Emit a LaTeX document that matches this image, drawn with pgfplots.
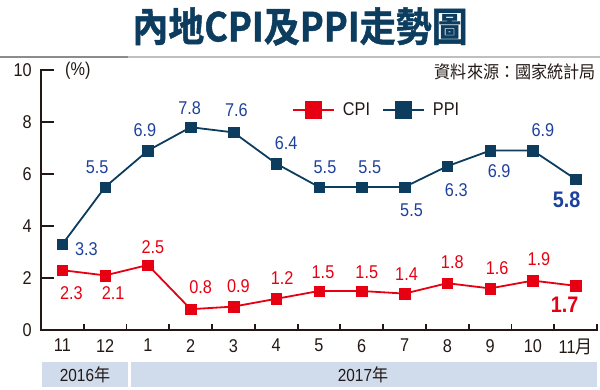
\documentclass[border=0pt]{standalone}
\usepackage{fontspec}
\setmainfont{Liberation Sans}[FakeStretch=0.88]
\newfontfamily\cjk{Noto Sans CJK TC}[FakeStretch=0.92]
\newfontfamily\cjkbold{Noto Sans CJK TC Bold}[FakeStretch=0.9, FakeBold=1.2]
\usepackage{pgfplots}
\usepackage{pgfplotstable}
\pgfplotsset{compat=1.18}

\definecolor{cpired}{RGB}{230,0,18}
\definecolor{ppinavy}{RGB}{12,60,94}
\definecolor{ppilab}{RGB}{30,65,155}
\definecolor{titleblue}{RGB}{12,60,94}
\definecolor{axiscol}{RGB}{35,24,21}
\definecolor{band}{RGB}{208,220,236}

\pgfplotstableread{
x y
0 2.3
1 2.1
2 2.5
3 0.8
4 0.9
5 1.2
6 1.5
7 1.5
8 1.4
9 1.8
10 1.6
11 1.9
12 1.7
}\cpidata

\pgfplotstableread{
x y
0 3.3
1 5.5
2 6.9
3 7.8
4 7.6
5 6.4
6 5.5
7 5.5
8 5.5
9 6.3
10 6.9
11 6.9
12 5.8
}\ppidata

\pgfplotstableread{
x y dx dy lab
0 2.3 9 -23 2.3
1 2.1 8 -18 2.1
2 2.5 5 18 2.5
3 0.8 10 22 0.8
4 0.9 5 20 0.9
5 1.2 6 21 1.2
6 1.5 4 19 1.5
7 1.5 5 19 1.5
8 1.4 2 19 1.4
9 1.8 5 21 1.8
10 1.6 7 20 1.6
11 1.9 6 21 1.9
}\cpilab

\pgfplotstableread{
x y dx dy lab
12 1.7 -11 -19 1.7
}\cpilast

\pgfplotstableread{
x y dx dy lab
0 3.3 24 -5 3.3
1 5.5 -8 20 5.5
2 6.9 -3 20 6.9
3 7.8 -1 19 7.8
4 7.6 3 22 7.6
5 6.4 10 20 6.4
6 5.5 6 20 5.5
7 5.5 8 20 5.5
8 5.5 7 -23 5.5
9 6.3 9 -24 6.3
10 6.9 9 -21 6.9
11 6.9 10 20 6.9
}\ppilab

\pgfplotstableread{
x y dx dy lab
12 5.8 -9 -21 5.8
}\ppilast

\pgfplotsset{
  labelplot/.style 2 args={draw=none, mark=none, forget plot,
    point meta=explicit symbolic,
    visualization depends on={\thisrow{dx}\as\dx},
    visualization depends on={\thisrow{dy}\as\dy},
    nodes near coords={\pgfplotspointmeta},
    nodes near coords align={center},
    every node near coord/.append style={anchor=center, inner sep=0pt,
      xshift=\dx pt, yshift=\dy pt, text=#1, font=#2}},
  frame/.style={at={(41pt,59pt)}, anchor=south west,
    scale only axis, width=556pt, height=260pt,
    xmin=-0.5, xmax=12.5, ymin=0, ymax=10,
    axis line style={draw=axiscol, line width=1.8pt, line cap=rect},
    tick align=inside,
    tick style={draw=axiscol, line width=1.8pt},
    clip=false},
}

\begin{document}
\begin{tikzpicture}[x=1pt,y=1pt]
\useasboundingbox (0,0) rectangle (600,389);
% title
\node[text=titleblue, inner sep=0pt] at (300,362.5) {\fontsize{40}{40}\selectfont\cjkbold 內地CPI及PPI走勢圖};
\draw[line width=1.5pt, black!45] (0,332) -- (128,332);
\draw[line width=1.5pt, black!25] (128,332) -- (600,332);
\node[anchor=east, text=axiscol, inner sep=0pt] at (596,317) {\fontsize{17.5}{17.5}\selectfont\cjk 資料來源：國家統計局};
% year band
\fill[band] (41.7,2.3) rectangle (128.3,27.3);
\fill[band] (130.7,2.3) rectangle (596.7,27.3);
\node[text=axiscol, inner sep=0pt] at (85,14.5) {\fontsize{17.5}{17.5}\selectfont 2016{\cjk 年}};
\node[text=axiscol, inner sep=0pt] at (363,14.5) {\fontsize{17.5}{17.5}\selectfont 2017{\cjk 年}};

% x axis (categories and boundary ticks)
\begin{axis}[frame,
  axis x line*=bottom, axis y line=none,
  xtick={0,...,12},
  xticklabels={11,12,1,2,3,4,5,6,7,8,9,10,{11{\cjk 月}}},
  major tick length=0pt,
  minor xtick={0.5,1.5,...,12.5},
  minor tick length=6pt,
  xticklabel style={font=\fontsize{18.5}{18.5}\selectfont, text=axiscol, inner sep=0pt, yshift=-9pt},
]
\end{axis}

\begin{axis}[frame,
  axis y line*=left, axis x line=none,
  ytick={0,2,...,10},
  major tick length=13pt,
  yticklabel style={font=\fontsize{18.5}{18.5}\selectfont, text=axiscol, inner sep=0pt, xshift=-9pt},
  /pgf/number format/assume math mode=true,
  legend columns=2,
  legend cell align=left,
  legend style={at={(axis description cs:0.4514,0.846)}, anchor=west,
    draw=none, fill=none, inner sep=0pt,
    font=\fontsize{18.5}{18.5}\selectfont, text=axiscol,
    /tikz/every odd column/.append style={column sep=6pt},
    /tikz/every even column/.append style={column sep=10pt}},
  legend image code/.code={\draw[mark repeat=2, mark phase=2, mark options={solid, scale=1.45}]
    plot coordinates {(0pt,0pt) (20.5pt,0pt) (41pt,0pt)};},
]
\addplot[cpired, line width=1.8pt, mark=square*, mark size=5.3pt, mark options={solid, line width=0.4pt}] table[x=x,y=y]{\cpidata};
\addlegendentry{CPI}
\addplot[ppinavy, line width=1.8pt, mark=square*, mark size=5.3pt, mark options={solid, line width=0.4pt}] table[x=x,y=y]{\ppidata};
\addlegendentry{PPI}

\addplot[labelplot={cpired}{\fontsize{18.5}{18.5}\selectfont}] table[x=x,y=y,meta=lab]{\cpilab};
\addplot[labelplot={cpired}{\fontsize{22.5}{22.5}\selectfont\bfseries}] table[x=x,y=y,meta=lab]{\cpilast};
\addplot[labelplot={ppilab}{\fontsize{18.5}{18.5}\selectfont}] table[x=x,y=y,meta=lab]{\ppilab};
\addplot[labelplot={ppilab}{\fontsize{22.5}{22.5}\selectfont\bfseries}] table[x=x,y=y,meta=lab]{\ppilast};

\node[anchor=west, inner sep=0pt, text=axiscol, font=\fontsize{18.5}{18.5}\selectfont, xshift=24pt, yshift=-1pt] at (rel axis cs:0,1) {(\%)};
\end{axis}
\end{tikzpicture}
\end{document}
